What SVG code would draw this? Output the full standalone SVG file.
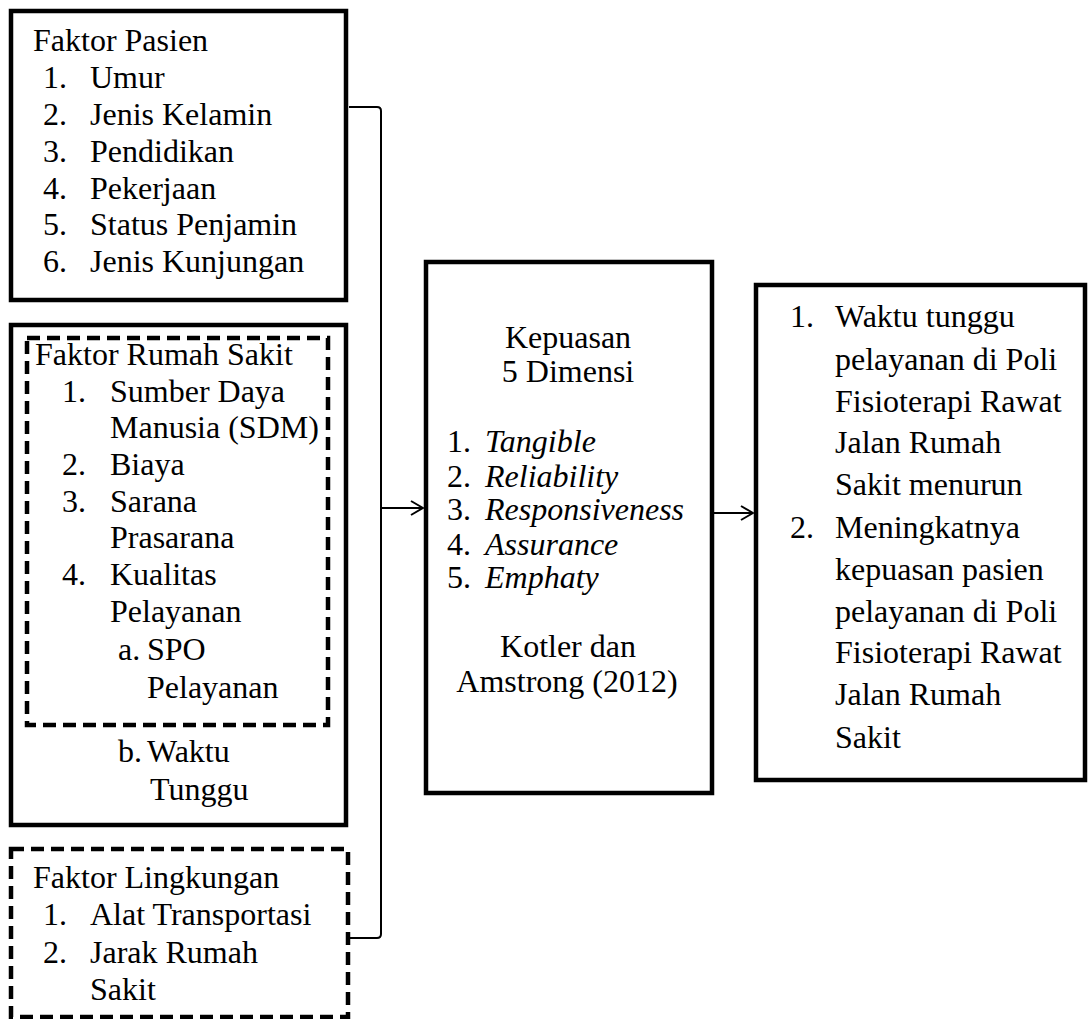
<svg xmlns="http://www.w3.org/2000/svg" width="1088" height="1019" viewBox="0 0 1088 1019">
<style>
text{font-size:32px;fill:#000}
.i{font-style:italic}
.c{text-anchor:middle}
.box{fill:#fff;stroke:#000;stroke-width:4.5}
.dash{fill:none;stroke:#000;stroke-width:4.5;stroke-dasharray:13 7}
.conn{fill:none;stroke:#000;stroke-width:2}
</style>
<defs>
<marker id="arr" markerWidth="14" markerHeight="16" refX="13" refY="8" orient="auto" markerUnits="userSpaceOnUse">
<path d="M1,1 L13,8 L1,15" fill="none" stroke="#000" stroke-width="2"/>
</marker>
</defs>
<rect width="1088" height="1019" fill="#fff"/>
<g font-family="Liberation Serif, Tinos, DejaVu Serif, serif">
<g id="faktor-pasien">
<rect class="box" x="11" y="11" width="335" height="289"/>
<text x="33" y="51">Faktor Pasien</text>
<text x="43" y="88">1.</text><text x="90" y="88">Umur</text>
<text x="43" y="125">2.</text><text x="90" y="125">Jenis Kelamin</text>
<text x="43" y="162">3.</text><text x="90" y="162">Pendidikan</text>
<text x="43" y="199">4.</text><text x="90" y="199">Pekerjaan</text>
<text x="43" y="235">5.</text><text x="90" y="235">Status Penjamin</text>
<text x="43" y="272">6.</text><text x="90" y="272">Jenis Kunjungan</text>
</g>

<g id="faktor-rumah-sakit">
<rect class="box" x="11" y="325" width="335" height="500"/>
<rect class="dash" x="27" y="338" width="301" height="387"/>
<text x="35" y="365">Faktor Rumah Sakit</text>
<text x="62" y="402">1.</text><text x="110" y="402">Sumber Daya</text>
<text x="110" y="438">Manusia (SDM)</text>
<text x="62" y="475">2.</text><text x="110" y="475">Biaya</text>
<text x="62" y="512">3.</text><text x="110" y="512">Sarana</text>
<text x="110" y="548">Prasarana</text>
<text x="62" y="585">4.</text><text x="110" y="585">Kualitas</text>
<text x="110" y="622">Pelayanan</text>
<text x="118" y="660">a.</text><text x="147" y="660">SPO</text>
<text x="147" y="698">Pelayanan</text>
<text x="118" y="762">b.</text><text x="147" y="762">Waktu</text>
<text x="150" y="800">Tunggu</text>
</g>

<g id="faktor-lingkungan">
<rect class="dash" x="11" y="849" width="337" height="168"/>
<text x="33" y="888">Faktor Lingkungan</text>
<text x="43" y="925">1.</text><text x="90" y="925">Alat Transportasi</text>
<text x="43" y="963">2.</text><text x="90" y="963">Jarak Rumah</text>
<text x="90" y="1000">Sakit</text>
</g>

<g id="kepuasan">
<rect class="box" x="426" y="262" width="286" height="531"/>
<text class="c" x="568" y="348">Kepuasan</text>
<text class="c" x="568" y="382">5 Dimensi</text>
<text x="447" y="452">1.</text><text class="i" x="485" y="452">Tangible</text>
<text x="447" y="487">2.</text><text class="i" x="485" y="487">Reliability</text>
<text x="447" y="520">3.</text><text class="i" x="485" y="520">Responsiveness</text>
<text x="447" y="555">4.</text><text class="i" x="485" y="555">Assurance</text>
<text x="447" y="588">5.</text><text class="i" x="485" y="588">Emphaty</text>
<text class="c" x="568" y="657">Kotler dan</text>
<text class="c" x="567" y="692">Amstrong (2012)</text>
</g>

<g id="hasil">
<rect class="box" x="756" y="285" width="329" height="495"/>
<text x="790" y="327">1.</text><text x="835" y="327">Waktu tunggu</text>
<text x="835" y="370">pelayanan di Poli</text>
<text x="835" y="412">Fisioterapi Rawat</text>
<text x="835" y="453">Jalan Rumah</text>
<text x="835" y="495">Sakit menurun</text>
<text x="790" y="538">2.</text><text x="835" y="538">Meningkatnya</text>
<text x="835" y="580">kepuasan pasien</text>
<text x="835" y="622">pelayanan di Poli</text>
<text x="835" y="663">Fisioterapi Rawat</text>
<text x="835" y="705">Jalan Rumah</text>
<text x="835" y="748">Sakit</text>
</g>
</g>
<g id="connectors">
<path class="conn" d="M349,107 H377 Q381,107 381,111 V934 Q381,938 377,938 H350"/>
<line class="conn" x1="381" y1="508" x2="423" y2="508" marker-end="url(#arr)"/>
<line class="conn" x1="714" y1="513" x2="753" y2="513" marker-end="url(#arr)"/>
</g>
</svg>
